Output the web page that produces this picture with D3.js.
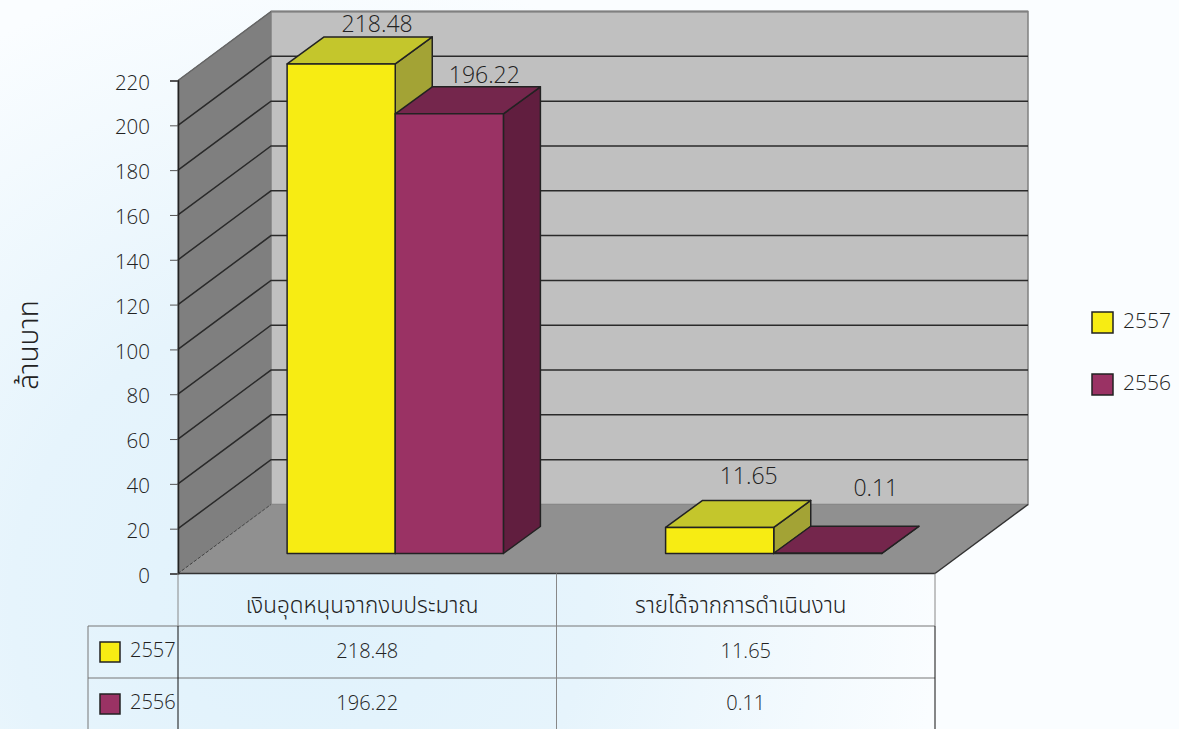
<!DOCTYPE html>
<html>
<head>
<meta charset="utf-8">
<script src="https://d3js.org/d3.v7.min.js"></script>
<style>
html, body { margin: 0; padding: 0; background: #fff; }
svg { display: block; }
text { font-family: "Open Sans", "Noto Sans Thai", "Noto Sans", "DejaVu Sans", sans-serif; font-weight: 300; fill: #222; font-size: 18px; }
</style>
</head>
<body>
<div id="chart"></div>
<script>
var categories = ["เงินอุดหนุนจากงบประมาณ", "รายได้จากการดำเนินงาน"];
var seriesNames = ["2557", "2556"];
var values2557 = [218.48, 11.65];
var values2556 = [196.22, 0.11];
var yTicks = [0, 20, 40, 60, 80, 100, 120, 140, 160, 180, 200, 220];
var axisTitle = "ล้านบาท";

var g = { width: 1179, height: 729 };
var plot = { left: 178, right: 935, top: 80.5, bottom: 573.5 };
var wallDx = 93, wallDy = -69;   // how far the back wall sits from the front plane
var barDx = 37, barDy = -27;     // depth of one bar
var gapDx = 28, gapDy = -20;     // space between front plane and bar front

var colors = [
    { front: "#f7ec13", top: "#c4c62c", side: "#a3a335" },
    { front: "#9a3264", top: "#74264c", side: "#611e3f" }
];
var series = [values2557, values2556];

var svg = d3.select("#chart").append("svg")
    .attr("width", g.width)
    .attr("height", g.height);

// page background, pale blue cloud that fades out to the right
var defs = svg.append("defs");
var glow = defs.append("radialGradient").attr("id", "glow")
    .attr("gradientUnits", "userSpaceOnUse")
    .attr("cx", 300).attr("cy", 600).attr("r", 640);
glow.append("stop").attr("offset", "0").attr("stop-color", "#e0f2fc");
glow.append("stop").attr("offset", "0.45").attr("stop-color", "#e6f4fc");
glow.append("stop").attr("offset", "1").attr("stop-color", "#fafdff");
svg.append("rect").attr("width", g.width).attr("height", g.height).attr("fill", "url(#glow)");

var y = d3.scaleLinear().domain([0, 220]).range([plot.bottom, plot.top]);
var x0 = d3.scaleBand().domain(categories).range([plot.left, plot.right]);
var x1 = d3.scaleBand().domain(seriesNames).range([0, x0.bandwidth()]).paddingInner(0).paddingOuter(0.75);

function pts(list) {
    return list.map(function(p) { return p[0] + "," + p[1]; }).join(" ");
}

var scene = svg.append("g");

// left wall, back wall, floor
scene.append("polygon")
    .attr("points", pts([[plot.left, y(220)], [plot.left + wallDx, y(220) + wallDy], [plot.left + wallDx, y(0) + wallDy], [plot.left, y(0)]]))
    .attr("fill", "#7f7f7f").attr("stroke", "#6a6a6a");
scene.append("polygon")
    .attr("points", pts([[plot.left + wallDx, y(220) + wallDy], [plot.right + wallDx, y(220) + wallDy], [plot.right + wallDx, y(0) + wallDy], [plot.left + wallDx, y(0) + wallDy]]))
    .attr("fill", "#c0c0c0").attr("stroke", "#808080").attr("stroke-width", 1.5);
scene.append("polygon")
    .attr("points", pts([[plot.left, y(0)], [plot.right, y(0)], [plot.right + wallDx, y(0) + wallDy], [plot.left + wallDx, y(0) + wallDy]]))
    .attr("fill", "#909090");
scene.append("line")
    .attr("x1", plot.right).attr("y1", y(0))
    .attr("x2", plot.right + wallDx).attr("y2", y(0) + wallDy)
    .attr("stroke", "#333").attr("stroke-width", 1.5);
scene.append("line")
    .attr("x1", plot.left).attr("y1", y(0))
    .attr("x2", plot.left + wallDx).attr("y2", y(0) + wallDy)
    .attr("stroke", "#444").attr("stroke-dasharray", "3,2");
scene.append("line")
    .attr("x1", plot.left).attr("y1", y(0))
    .attr("x2", plot.right).attr("y2", y(0))
    .attr("stroke", "#333").attr("stroke-width", 1.5);

// gridlines wrap round the wall
var gridTicks = yTicks.slice(1, -1);
scene.selectAll(".grid")
    .data(gridTicks)
  .enter().append("polyline")
    .attr("class", "grid")
    .attr("fill", "none")
    .attr("stroke", "#2a2a2a")
    .attr("stroke-width", 1.5)
    .attr("points", function(d) {
        return pts([[plot.left, y(d)], [plot.left + wallDx, y(d) + wallDy], [plot.right + wallDx, y(d) + wallDy]]);
    });
scene.append("line")
    .attr("x1", plot.left + wallDx).attr("y1", y(220) + wallDy)
    .attr("x2", plot.right + wallDx).attr("y2", y(220) + wallDy)
    .attr("stroke", "#808080").attr("stroke-width", 2);
scene.append("line")
    .attr("x1", plot.left).attr("y1", y(220))
    .attr("x2", plot.left + wallDx).attr("y2", y(220) + wallDy)
    .attr("stroke", "#666").attr("stroke-width", 1.5);

// bars
var labelNudge = [[[1, -1], [0, 0]], [[-6, -12], [13, -26]]];
categories.forEach(function(cat, c) {
    seriesNames.forEach(function(name, s) {
        var v = series[s][c];
        var left = x0(cat) + x1(name) + gapDx;
        var right = left + x1.bandwidth();
        var base = y(0) + gapDy;
        var top = base - (y(0) - y(v));
        var col = colors[s];
        var bar = scene.append("g").attr("stroke", "#222").attr("stroke-width", 1.5).attr("stroke-linejoin", "round");
        bar.append("polygon").attr("fill", col.side)
            .attr("points", pts([[right, top], [right + barDx, top + barDy], [right + barDx, base + barDy], [right, base]]));
        bar.append("polygon").attr("fill", col.top)
            .attr("points", pts([[left, top], [left + barDx, top + barDy], [right + barDx, top + barDy], [right, top]]));
        bar.append("polygon").attr("fill", col.front)
            .attr("points", pts([[left, top], [right, top], [right, base], [left, base]]));
    });
});
categories.forEach(function(cat, c) {
    seriesNames.forEach(function(name, s) {
        var v = series[s][c];
        var base = y(0) + gapDy;
        var top = base - (y(0) - y(v));
        scene.append("text")
            .attr("x", x0(cat) + x1(name) + gapDx + x1.bandwidth() / 2 + barDx - 2 + labelNudge[c][s][0])
            .attr("y", top + barDy - 4 + labelNudge[c][s][1])
            .attr("text-anchor", "middle")
            .style("font-size", "23px")
            .text(d3.format(".2f")(v));
    });
});

// y axis
var axis = svg.append("g")
    .attr("transform", "translate(" + plot.left + ",0)")
    .call(d3.axisLeft(y).tickValues(yTicks).tickSize(8).tickPadding(20).tickFormat(d3.format("d")));
axis.selectAll("path").attr("stroke", "#222").attr("stroke-width", 1.5);
axis.selectAll("line").attr("stroke", "#555");
axis.selectAll("text").attr("dy", "0.42em").style("font-size", "20.5px").attr("fill", "#222");
axis.attr("font-family", null).attr("font-size", null);

svg.append("text")
    .attr("transform", "translate(38,345) rotate(-90)")
    .attr("text-anchor", "middle")
    .style("font-size", "28px")
    .text(axisTitle);

// data table under the chart
var rowY = [626, 678, 730];
var tableLeft = 88;
var table = svg.append("g").attr("stroke-width", 1);
table.selectAll(".hline").data(rowY.slice(0, 2)).enter().append("line")
    .attr("x1", tableLeft).attr("x2", plot.right)
    .attr("y1", function(d) { return d; }).attr("y2", function(d) { return d; })
    .attr("stroke", "#777");
table.append("line").attr("x1", tableLeft).attr("x2", tableLeft).attr("y1", rowY[0]).attr("y2", g.height).attr("stroke", "#777");
[plot.left, x0(categories[1]), plot.right].forEach(function(px, i) {
    table.append("line").attr("x1", px).attr("x2", px).attr("y1", plot.bottom).attr("y2", rowY[0]).attr("stroke", "#888");
    table.append("line").attr("x1", px).attr("x2", px).attr("y1", rowY[0]).attr("y2", g.height).attr("stroke", i == 1 ? "#888" : "#111");
});

categories.forEach(function(cat) {
    svg.append("text")
        .attr("x", x0(cat) + x0.bandwidth() / 2 - 5)
        .attr("y", 613)
        .attr("text-anchor", "middle")
        .style("font-size", "22.5px")
        .text(cat);
});

seriesNames.forEach(function(name, s) {
    var mid = (rowY[s] + rowY[s + 1]) / 2;
    svg.append("rect")
        .attr("x", 100).attr("y", mid - 10).attr("width", 20).attr("height", 20)
        .attr("fill", colors[s].front).attr("stroke", "#222").attr("stroke-width", 1.5);
    svg.append("text").attr("x", 130).attr("y", mid + 5).style("font-size", "20px").text(name);
    categories.forEach(function(cat, c) {
        svg.append("text")
            .attr("x", x0(cat) + x0.bandwidth() / 2)
            .attr("y", mid + 6)
            .attr("text-anchor", "middle")
            .style("font-size", "20px")
            .text(d3.format(".2f")(series[s][c]));
    });
});

// legend
var legendY = [322, 384];
seriesNames.forEach(function(name, s) {
    svg.append("rect")
        .attr("x", 1092).attr("y", legendY[s] - 10).attr("width", 21).attr("height", 21)
        .attr("fill", colors[s].front).attr("stroke", "#222").attr("stroke-width", 1.5);
    svg.append("text").attr("x", 1123).attr("y", legendY[s] + 6).style("font-size", "21px").text(name);
});
</script>
</body>
</html>
